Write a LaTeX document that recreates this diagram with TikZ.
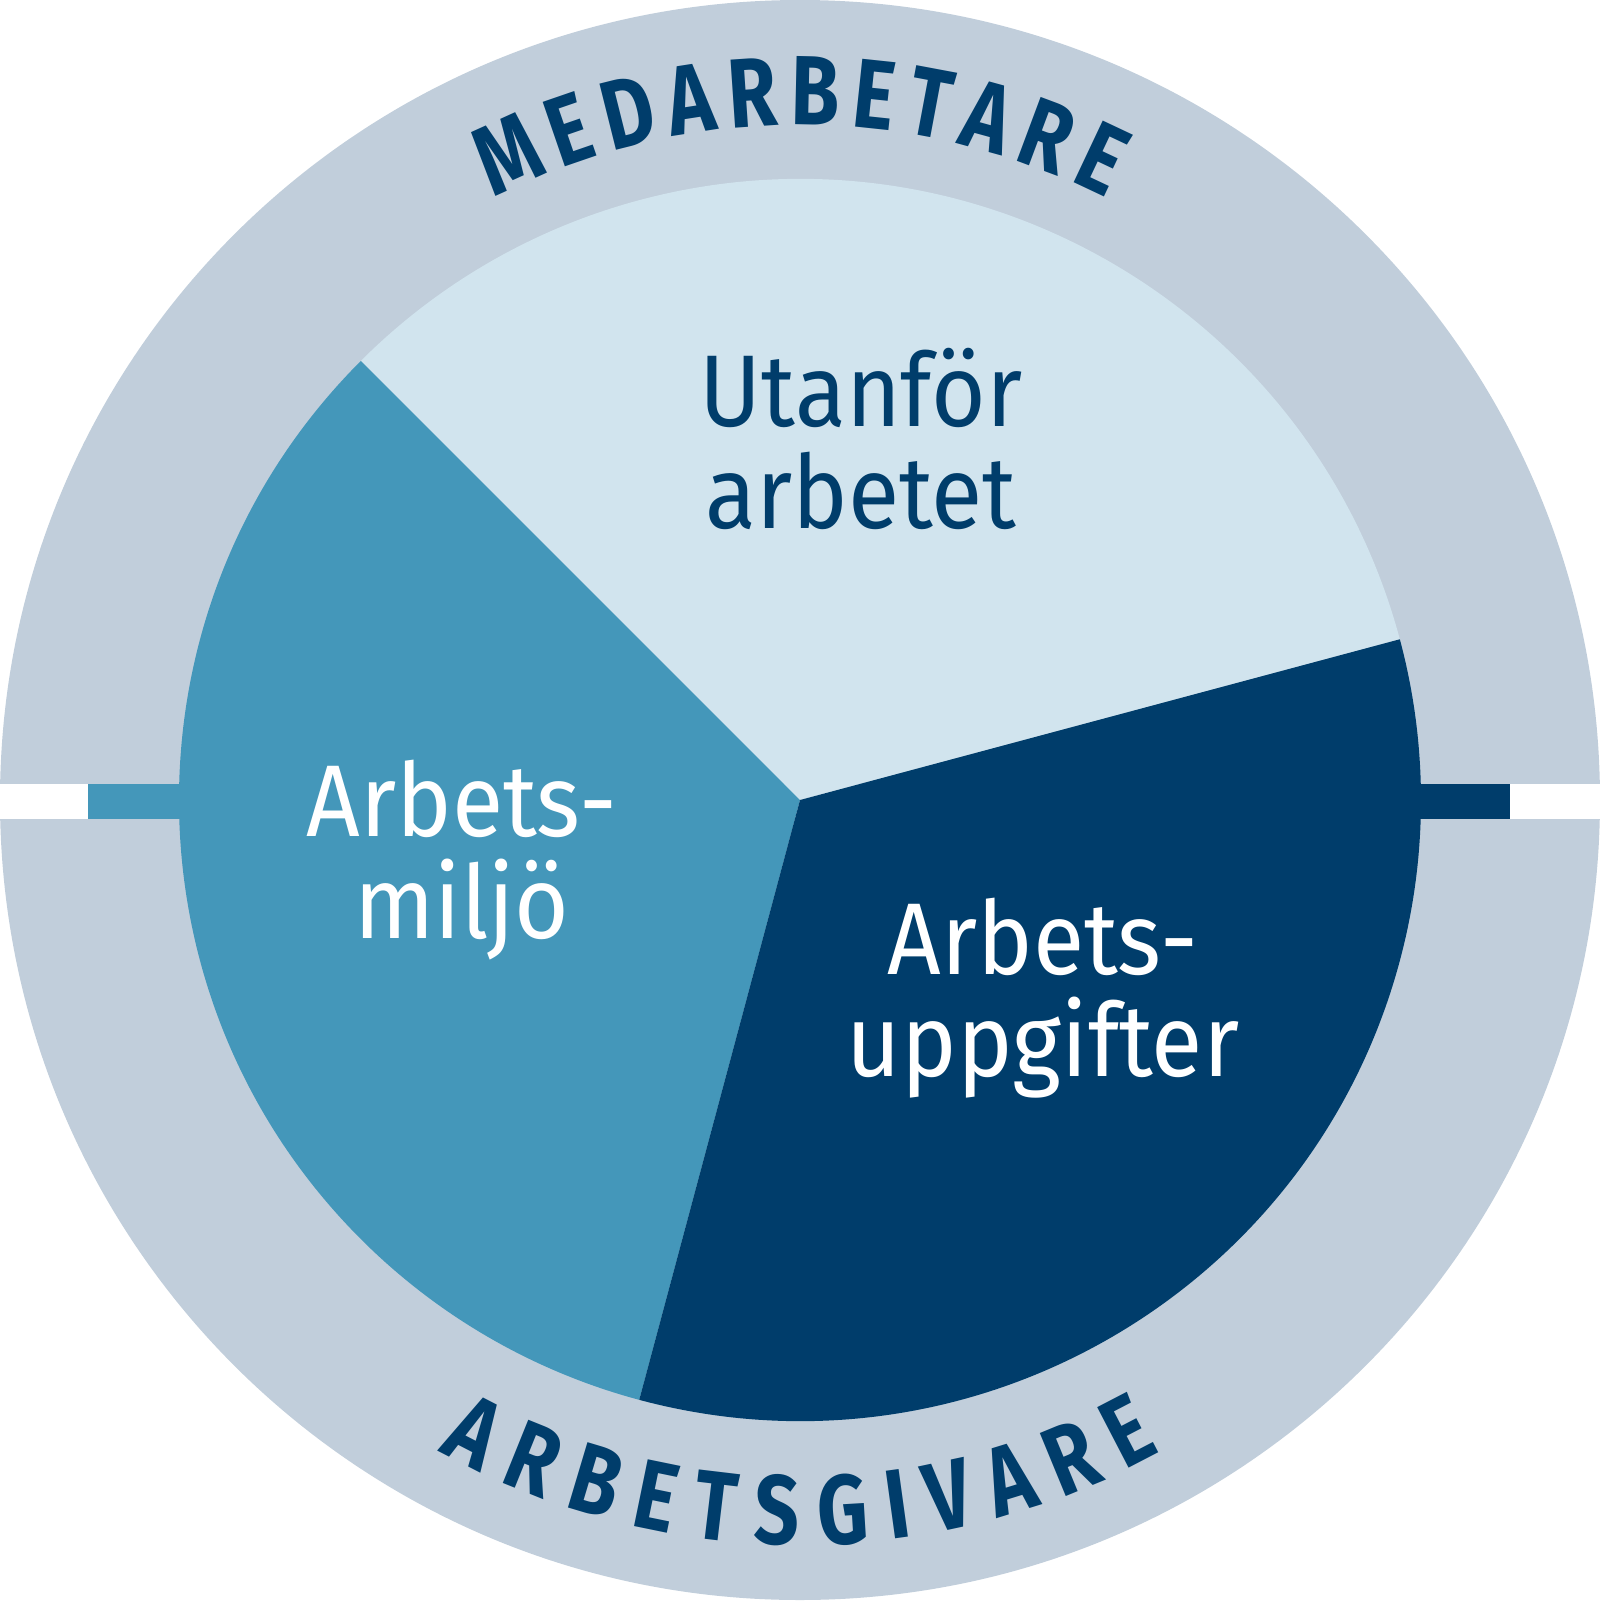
\documentclass[tikz,border=0pt]{standalone}
\usepackage{fontspec}
\setmainfont[FakeStretch=0.92]{Fira Sans}
\newfontfamily\brushfont[FakeStretch=0.8]{Fira Sans}
\usepackage{tikz}
\usetikzlibrary{decorations.text}
\definecolor{ringgrey}{RGB}{193,206,219}
\definecolor{lightblue}{RGB}{209,228,238}
\definecolor{midblue}{RGB}{68,151,186}
\definecolor{darkblue}{RGB}{0,61,107}
\tikzset{
  label/.style = {align = center,inner sep = 0pt,font = \fontsize{29}{29}\selectfont},
  brush/.style = {decorate,decoration = {text along path,text align = fit to path,text color = darkblue,text = {|\brushfont\bfseries\fontsize{28}{28}\selectfont|#1}}}
}

\begin{document}
\begin{tikzpicture}
  \useasboundingbox(-8,-8.01) rectangle (8,8);
  \fill[ringgrey](0,0) circle(8cm);
  \fill[white](-8.1,-0.19) rectangle (8.1,0.16);
  \fill[midblue](-7.12,-0.19) rectangle (-6,0.16);
  \fill[darkblue](6,-0.19) rectangle (7.1,0.16);
  \fill[lightblue](0,0) -- (15:6.21) arc(15:135:6.21) -- cycle;
  \fill[midblue](0,0) -- (135:6.21) arc(135:255:6.21) -- cycle;
  \fill[darkblue](0,0) -- (255:6.21) arc(255:375:6.21) -- cycle;
  \node[label,text = darkblue](utanfor) at (0.61,3.61){Utanför\\arbetet};
  \node[label,text = white](miljo) at (-3.38,-0.6){Arbets-\\miljö};
  \node[label,text = white](uppgifter) at (2.43,-1.98){Arbets-\\uppgifter};
  \path[brush = MEDARBETARE](117:6.75) arc(117:63:6.75);
  \path[brush = ARBETSGIVARE](241:7.45) arc(241:299:7.45);
\end{tikzpicture}
\end{document}
